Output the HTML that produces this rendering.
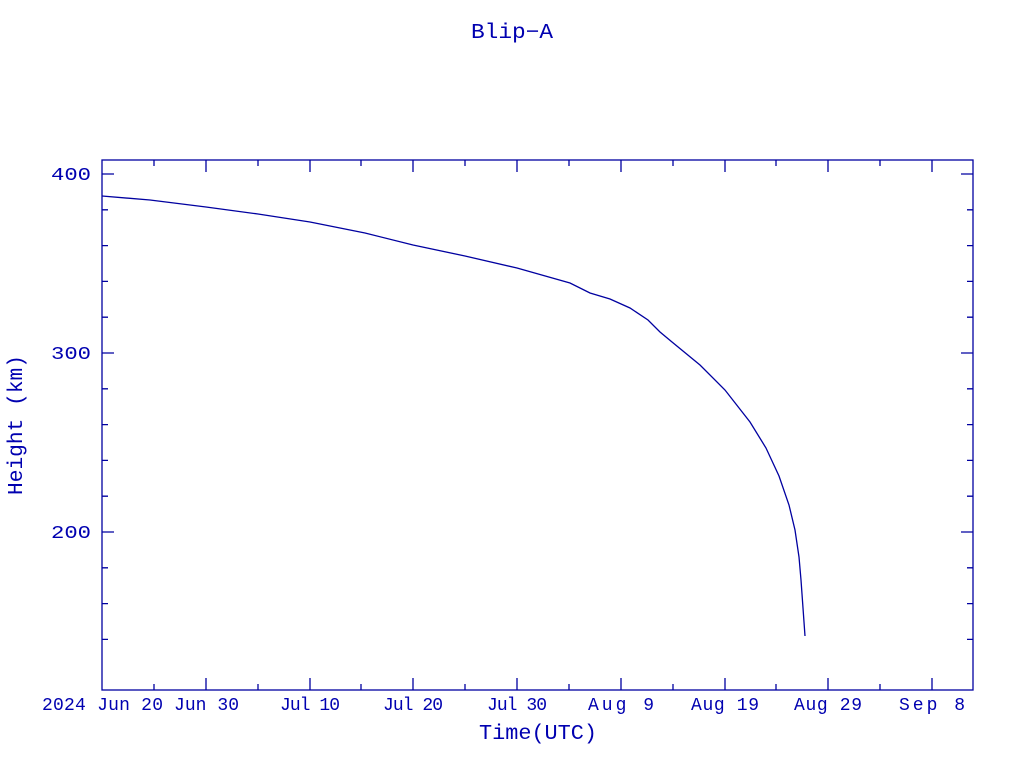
<!DOCTYPE html>
<html><head><style>body{margin:0;background:#fff}svg text{font-family:"Liberation Mono",monospace;fill:#0000b0}</style></head><body>
<svg width="1024" height="768" xmlns="http://www.w3.org/2000/svg">
<g stroke="#0000a0" stroke-width="1.3" fill="none">
<rect x="102" y="160" width="871" height="530"/>
<path d="
M102,174h12M973,174h-12M102,353h12M973,353h-12M102,532h12M973,532h-12
M102,209.8h6M973,209.8h-6M102,245.6h6M973,245.6h-6M102,281.4h6M973,281.4h-6M102,317.2h6M973,317.2h-6
M102,388.8h6M973,388.8h-6M102,424.6h6M973,424.6h-6M102,460.4h6M973,460.4h-6M102,496.2h6M973,496.2h-6
M102,567.8h6M973,567.8h-6M102,603.6h6M973,603.6h-6M102,639.4h6M973,639.4h-6
M206,690v-12M310,690v-12M413,690v-12M517,690v-12M621,690v-12M725,690v-12M828,690v-12M932,690v-12
M206,160v12M310,160v12M413,160v12M517,160v12M621,160v12M725,160v12M828,160v12M932,160v12
M154,690v-6M258,690v-6M361,690v-6M465,690v-6M569,690v-6M673,690v-6M776,690v-6M880,690v-6
M154,160v6M258,160v6M361,160v6M465,160v6M569,160v6M673,160v6M776,160v6M880,160v6"/>
<path d="M102,196 L150,200 L206,207 L258,214 L310,222 L365,233 L413,245 L465,256 L517,268 L570,283 L590,293 L610,299 L630,308 L648,320 L660,332 L672,342 L700,365 L725,390 L750,422 L766,448 L779,476 L789,505 L795,530 L799,557 L801,580 L803,608 L805,636"/>
</g>
<g font-size="18">
<text x="471" y="38" font-size="21" textLength="82" lengthAdjust="spacingAndGlyphs">Blip−A</text>
<text x="51" y="180" textLength="40" lengthAdjust="spacingAndGlyphs">400</text>
<text x="51" y="359" textLength="40" lengthAdjust="spacingAndGlyphs">300</text>
<text x="51" y="538" textLength="40" lengthAdjust="spacingAndGlyphs">200</text>
<text x="42" y="710" textLength="121" lengthAdjust="spacing">2024 Jun 20</text>
<text x="174" y="710" textLength="65" lengthAdjust="spacing">Jun 30</text>
<text x="280" y="710" textLength="60" lengthAdjust="spacing">Jul 10</text>
<text x="383" y="710" textLength="60" lengthAdjust="spacing">Jul 20</text>
<text x="487" y="710" textLength="60" lengthAdjust="spacing">Jul 30</text>
<text x="588" y="710" textLength="66" lengthAdjust="spacing">Aug  9</text>
<text x="691" y="710" textLength="68" lengthAdjust="spacing">Aug 19</text>
<text x="794" y="710" textLength="68" lengthAdjust="spacing">Aug 29</text>
<text x="899" y="710" textLength="66" lengthAdjust="spacing">Sep  8</text>
<text x="479" y="739" font-size="21" textLength="118" lengthAdjust="spacingAndGlyphs">Time(UTC)</text>
<text transform="translate(22,495) rotate(-90)" font-size="21" textLength="140" lengthAdjust="spacingAndGlyphs">Height (km)</text>
</g>
</svg>
</body></html>
